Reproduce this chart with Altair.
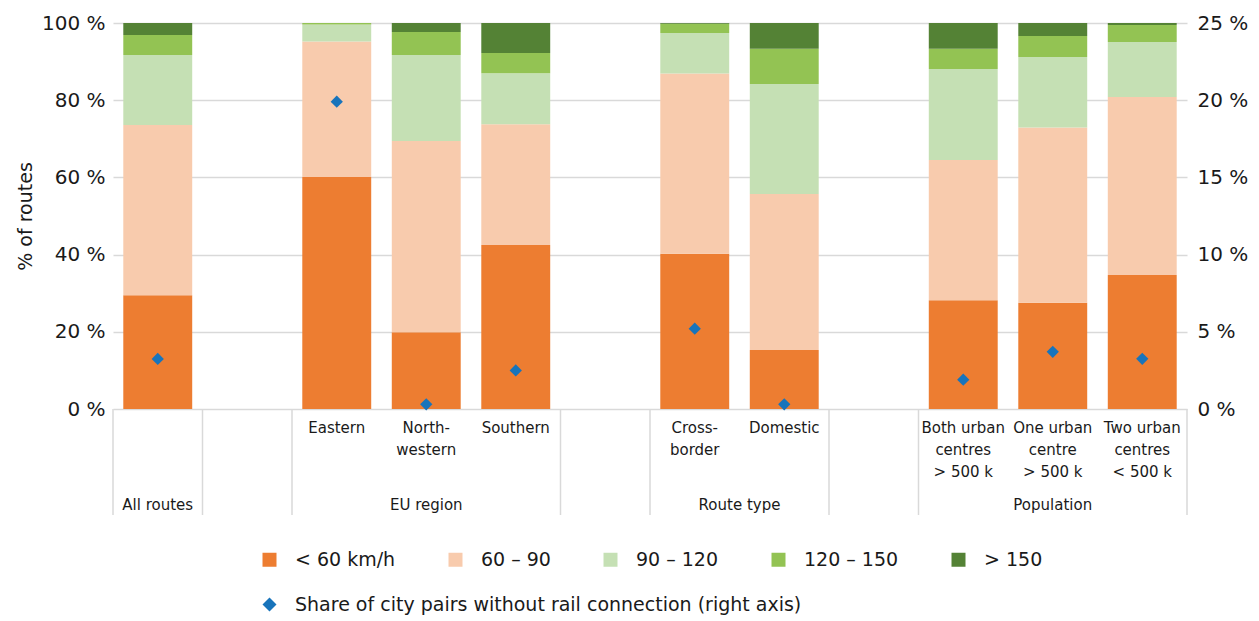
import altair as alt
import pandas as pd

# ---------------- data ----------------
categories = ["", "Eastern", "North-\nwestern", "Southern", "Cross-\nborder", "Domestic",
              "Both urban\ncentres\n> 500 k", "One urban\ncentre\n> 500 k", "Two urban\ncentres\n< 500 k"]
slots = [0, 2, 3, 4, 6, 7, 9, 10, 11]
speed_classes = ["< 60 km/h", "60 – 90", "90 – 120", "120 – 150", "> 150"]
colors = ["#ED7D31", "#F8CBAD", "#C5E0B4", "#93C353", "#548235"]

lt60 = [29.5, 60.1, 19.9, 42.5, 40.2, 15.3, 28.2, 27.5, 34.7]
s60_90 = [44.1, 35.1, 49.5, 31.3, 46.7, 40.4, 36.3, 45.4, 46.1]
s90_120 = [18.1, 4.4, 22.3, 13.2, 10.5, 28.5, 23.6, 18.3, 14.3]
s120_150 = [5.2, 0.4, 6.0, 5.2, 2.4, 9.1, 5.2, 5.4, 4.4]
gt150 = [3.1, 0.0, 2.3, 7.8, 0.2, 6.7, 6.7, 3.4, 0.5]
no_rail = [3.24, 19.9, 0.3, 2.5, 5.2, 0.3, 1.9, 3.7, 3.25]
series_label = "Share of city pairs without rail connection (right axis)"

groups = ["All routes", "EU region", "Route type", "Population"]
group_centres = [0.5, 3.5, 7.0, 10.5]
boundaries = [0, 1, 2, 5, 6, 8, 9, 12]

# ---------------- tables ----------------
series = [lt60, s60_90, s90_120, s120_150, gt150]
rows = []
for ci, cls in enumerate(speed_classes):
    for i, s in enumerate(slots):
        rows.append({"slot": s, "cls": cls, "cls_idx": ci, "value": series[ci][i]})
bars_df = pd.DataFrame(rows)
pts_df = pd.DataFrame({"slot": slots, "share": no_rail, "series": [series_label] * len(slots)})
cat_df = pd.DataFrame({"slot": slots, "label": categories})
cat_df = cat_df[cat_df["label"] != ""]
grp_df = pd.DataFrame({"pos": group_centres, "label": groups})
bnd_df = pd.DataFrame({"b": boundaries})

FONT = "DejaVu Sans"
GRID = "#D9D9D9"
xscale = alt.Scale(domain=[0, 12], nice=False, zero=False)

bars = alt.Chart(bars_df).transform_stack(
    stack="value", as_=["y0", "y1"], groupby=["slot"], sort=[alt.SortField("cls_idx")]
).transform_calculate(
    x0="datum.slot + 0.115", x1="datum.slot + 0.885"
).mark_bar().encode(
    x=alt.X("x0:Q", scale=xscale, axis=None),
    x2="x1:Q",
    y=alt.Y("y0:Q", scale=alt.Scale(domain=[0, 100], nice=False),
            axis=alt.Axis(orient="left", values=[0, 20, 40, 60, 80, 100],
                          labelExpr="datum.value + ' %'", title="% of routes",
                          titleFontSize=19, titleFontWeight="normal", titleFont=FONT,
                          titlePadding=6, labelPadding=8, grid=True)),
    y2="y1:Q",
    color=alt.Color("cls:N", scale=alt.Scale(domain=speed_classes, range=colors),
                    legend=alt.Legend(title=None, orient="none", legendX=147, legendY=527,
                                      direction="horizontal", symbolType="square",
                                      symbolSize=196, symbolStrokeWidth=0,
                                      labelFontSize=19, labelFont=FONT, labelOffset=16,
                                      columnPadding=50, labelColor="#1a1a1a")),
    order=alt.Order("cls_idx:Q"),
)

points = alt.Chart(pts_df).transform_calculate(
    xc="datum.slot + 0.5"
).mark_point(filled=True, size=150, color="#1874BB", opacity=1).encode(
    x=alt.X("xc:Q", scale=xscale, axis=None),
    y=alt.Y("share:Q", scale=alt.Scale(domain=[0, 25], nice=False),
            axis=alt.Axis(orient="right", values=[0, 5, 10, 15, 20, 25],
                          labelExpr="datum.value + ' %'", title=None, grid=False,
                          labelPadding=10)),
    shape=alt.Shape("series:N", scale=alt.Scale(domain=[series_label], range=["diamond"]),
                    legend=alt.Legend(title=None, orient="none", legendX=147, legendY=572,
                                      symbolSize=196, symbolStrokeWidth=0,
                                      symbolFillColor="#1874BB",
                                      labelFontSize=19, labelFont=FONT, labelOffset=16,
                                      labelLimit=800, labelColor="#1a1a1a")),
)

rules = alt.Chart(bnd_df).mark_rule(color=GRID, strokeWidth=1.5).encode(
    x=alt.X("b:Q", scale=xscale, axis=None),
    y=alt.value(386), y2=alt.value(492),
)

cat_text = alt.Chart(cat_df).transform_calculate(
    xc="datum.slot + 0.5"
).mark_text(font=FONT, fontSize=15, baseline="top", align="center",
            lineBreak="\n", lineHeight=22, color="#1a1a1a").encode(
    x=alt.X("xc:Q", scale=xscale, axis=None),
    y=alt.value(398),
    text="label:N",
)

grp_text = alt.Chart(grp_df).mark_text(font=FONT, fontSize=15, baseline="middle",
                                       align="center", color="#1a1a1a").encode(
    x=alt.X("pos:Q", scale=xscale, axis=None),
    y=alt.value(482),
    text="label:N",
)

chart = alt.layer(bars, points, rules, cat_text, grp_text).resolve_scale(
    y="independent"
).properties(
    width=1074, height=386,
    padding={"left": 8, "top": 5, "right": 0, "bottom": 0},
).configure_view(strokeWidth=0).configure_axis(
    labelFont=FONT, labelFontSize=20, labelColor="#1a1a1a", titleColor="#1a1a1a",
    domain=False, ticks=False, gridColor=GRID, gridWidth=1.5,
)

chart.save("out.html", embed_options={"renderer": "svg", "actions": False})
